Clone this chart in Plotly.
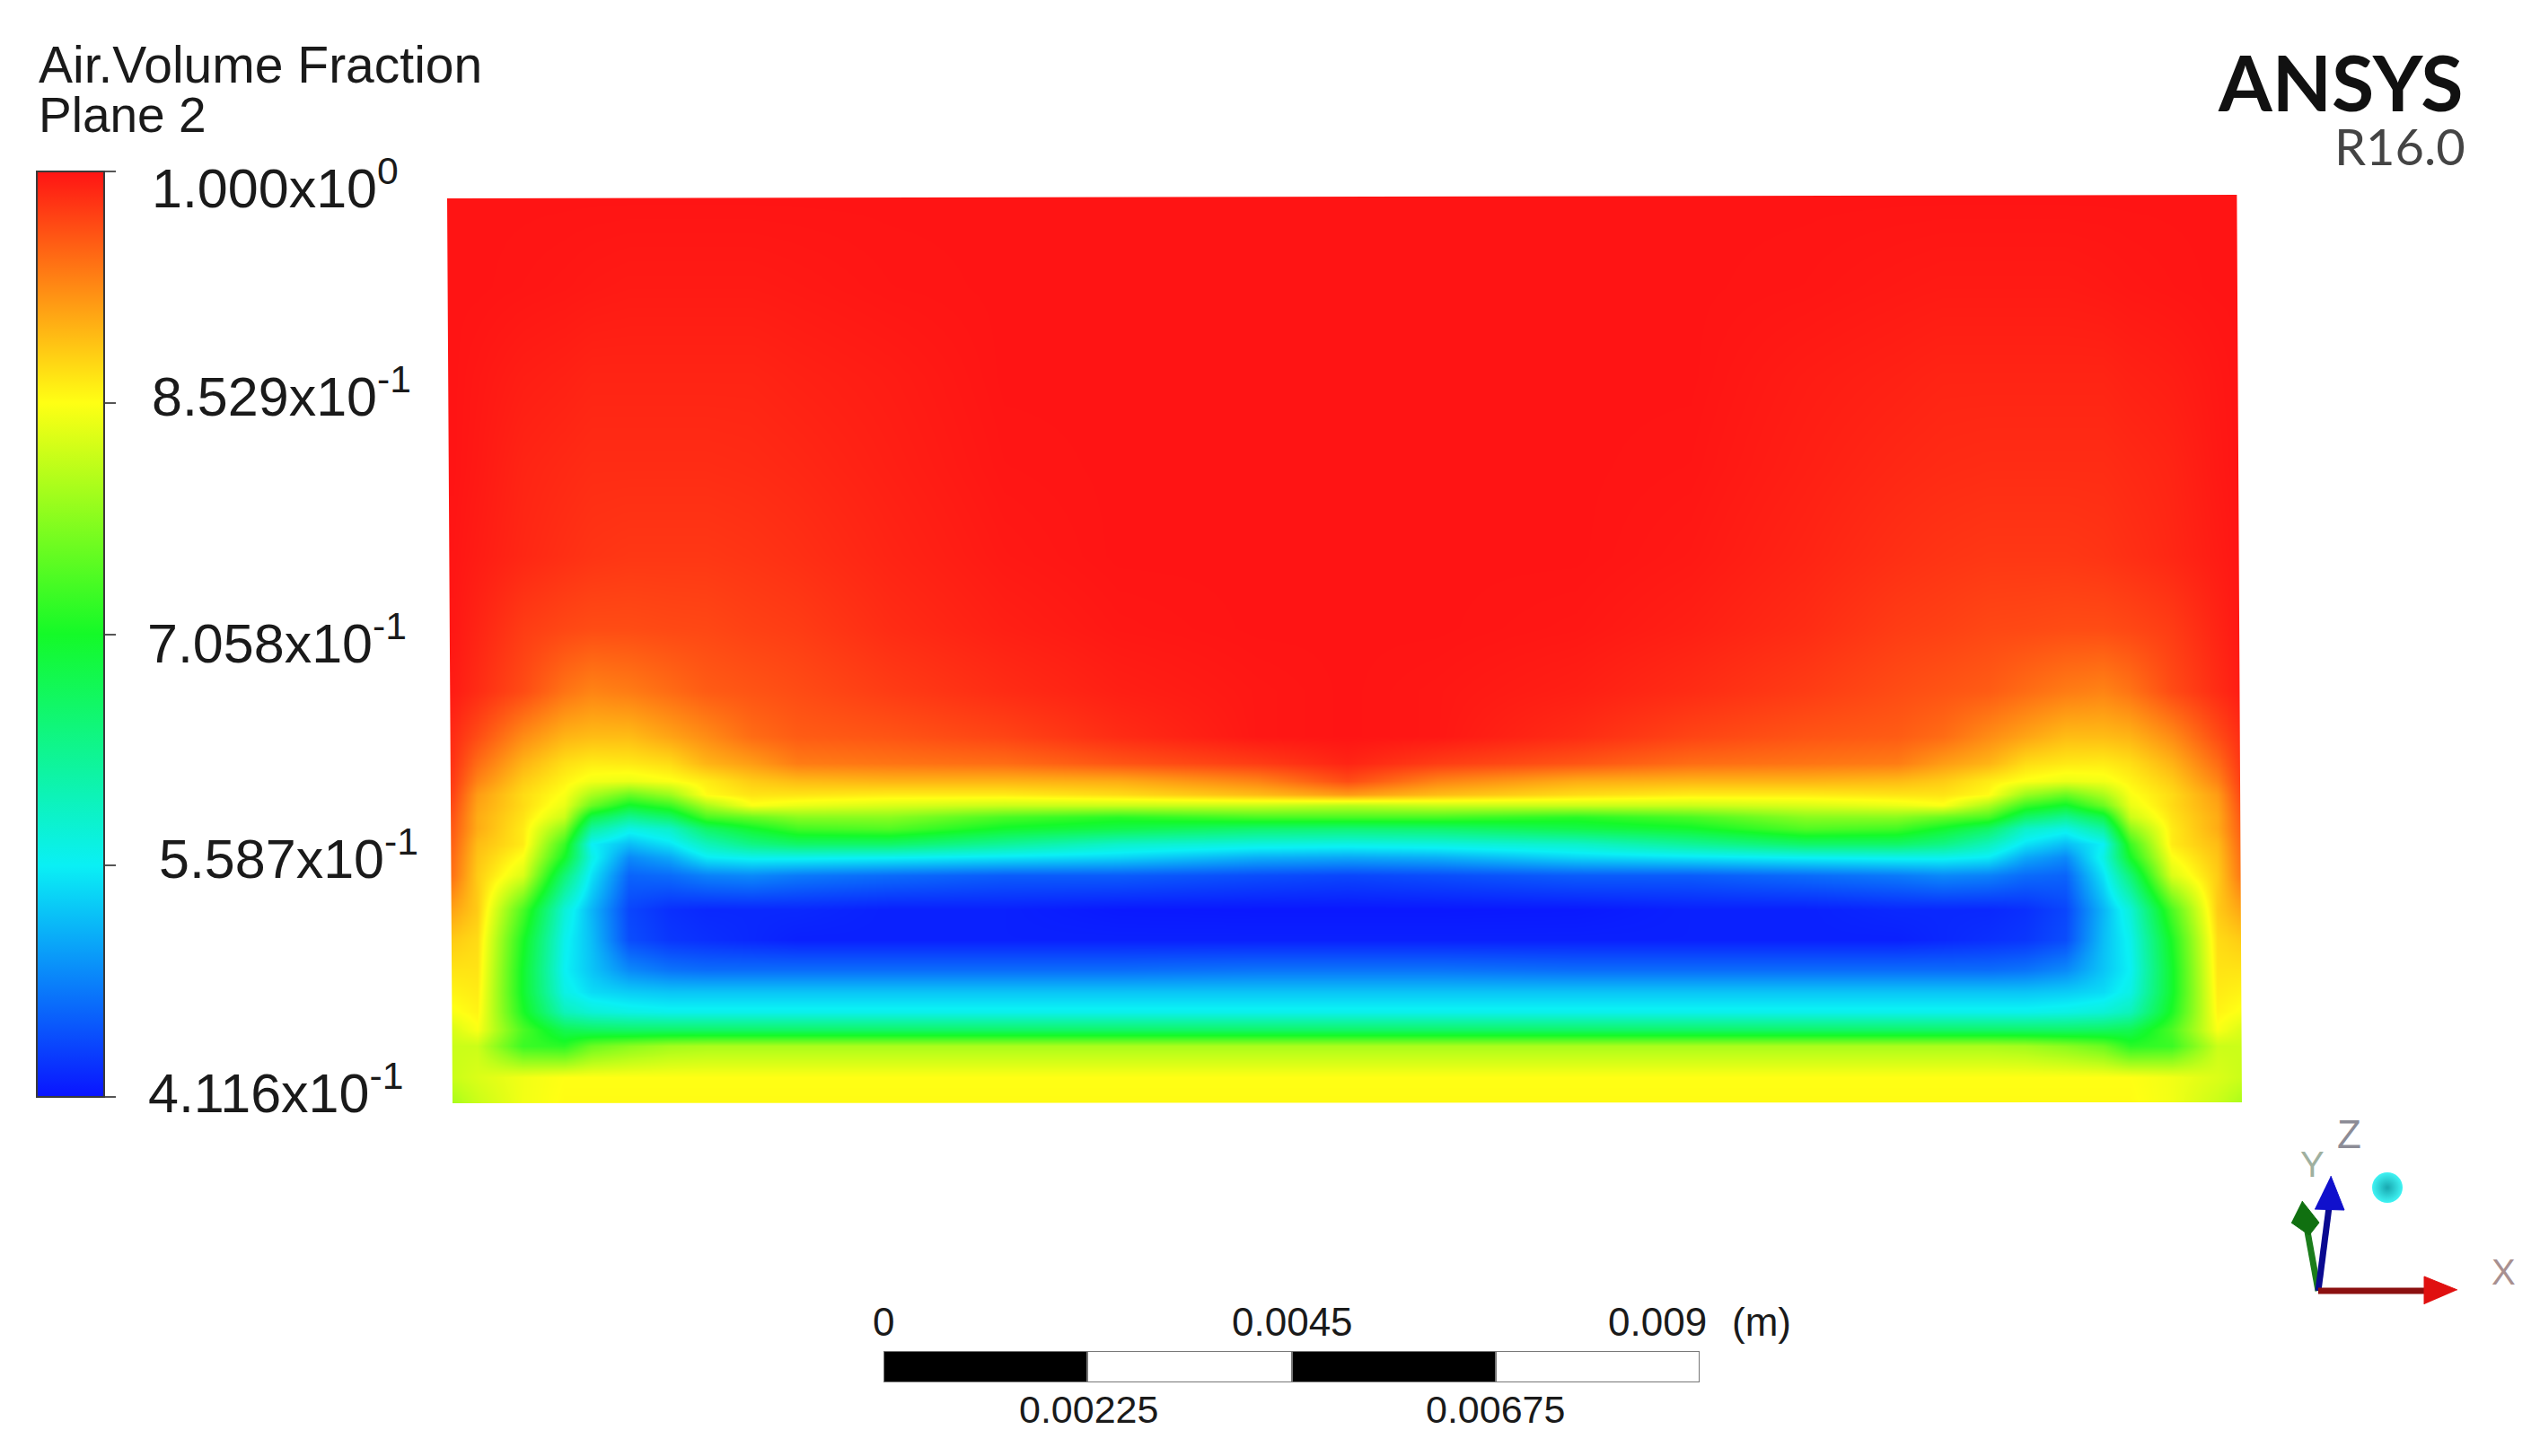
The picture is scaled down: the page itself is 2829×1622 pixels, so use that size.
import plotly.graph_objects as go

W, H = 2829, 1622

# ---------- data ----------
x_positions = [504,531,582,628,658,700,745,786,837,888,990,1118,1245,1400,1500,1600,1755,1882,2010,2112,2163,2214,2255,2300,2342,2372,2418,2469,2496]
y_positions = [220,320,420,520,620,700,770,820,850,870,885,897,910,923,940,955,975,1013,1047,1080,1105,1127,1147,1165,1200,1228]

air_fraction = [
[1,1,1,1,1,1,1,1,1,1,1,1,1,1,1,1,1,1,1,1,1,1,1,1,1,1,1,1,1],
[1,1,.999,.998,.997,.996,.996,.996,.996,.997,.999,1,1,1,1,1,1,1,.999,.997,.996,.996,.996,.996,.997,.998,.999,1,1],
[1,.998,.994,.992,.99,.99,.99,.99,.99,.992,.995,1,1,1,1,1,1,1,.995,.992,.99,.99,.99,.99,.99,.992,.994,.998,1],
[1,.997,.99,.987,.985,.985,.985,.985,.986,.988,.993,.999,1,1,1,1,1,.999,.993,.988,.986,.985,.985,.985,.985,.987,.99,.997,1],
[.999,.995,.988,.983,.98,.978,.978,.978,.98,.983,.99,.997,1,1,1,1,1,.997,.99,.983,.98,.978,.978,.978,.98,.983,.988,.995,.999],
[.998,.99,.975,.968,.965,.965,.967,.968,.972,.975,.985,.993,.998,1,1,1,.998,.993,.985,.975,.972,.968,.967,.965,.965,.968,.975,.99,.998],
[.995,.985,.965,.94,.93,.935,.945,.955,.96,.965,.975,.985,.993,.998,1,.998,.993,.985,.975,.965,.96,.955,.945,.935,.93,.94,.965,.985,.995],
[.985,.965,.925,.90,.895,.895,.91,.925,.945,.955,.96,.97,.985,.998,1,.998,.985,.97,.96,.955,.945,.925,.91,.895,.895,.90,.925,.965,.985],
[.98,.945,.90,.873,.865,.867,.875,.90,.915,.935,.94,.945,.96,.975,.99,.975,.96,.945,.94,.935,.915,.90,.875,.867,.865,.873,.90,.945,.98],
[.975,.93,.885,.86,.845,.84,.85,.865,.885,.895,.90,.90,.905,.93,.965,.93,.905,.90,.90,.895,.885,.865,.85,.84,.845,.86,.885,.93,.975],
[.97,.915,.875,.85,.80,.76,.79,.855,.87,.87,.865,.865,.875,.895,.915,.895,.875,.865,.865,.87,.87,.855,.79,.76,.80,.85,.875,.915,.97],
[.965,.91,.875,.84,.76,.70,.73,.80,.85,.84,.83,.82,.82,.82,.81,.82,.82,.82,.83,.84,.85,.80,.73,.70,.76,.84,.875,.91,.965],
[.96,.905,.87,.82,.68,.63,.66,.74,.76,.78,.78,.74,.72,.74,.74,.74,.72,.74,.78,.78,.76,.74,.66,.63,.68,.82,.87,.905,.96],
[.955,.905,.865,.78,.62,.57,.59,.66,.70,.735,.745,.70,.68,.655,.65,.655,.68,.70,.745,.735,.70,.66,.59,.57,.62,.78,.865,.905,.955],
[.95,.895,.865,.73,.56,.525,.55,.60,.64,.66,.66,.625,.59,.575,.57,.575,.59,.625,.66,.66,.64,.60,.55,.525,.56,.73,.865,.895,.95],
[.945,.89,.85,.705,.57,.49,.51,.555,.565,.565,.56,.55,.54,.515,.51,.515,.54,.55,.56,.565,.565,.555,.51,.49,.57,.705,.85,.89,.945],
[.94,.885,.83,.65,.55,.465,.47,.485,.49,.48,.47,.46,.46,.45,.445,.45,.46,.46,.47,.48,.49,.485,.47,.465,.55,.65,.83,.885,.94],
[.91,.885,.74,.58,.52,.445,.43,.425,.425,.425,.42,.42,.415,.414,.414,.414,.415,.42,.42,.425,.425,.425,.43,.445,.52,.58,.74,.885,.91],
[.885,.875,.71,.565,.525,.45,.435,.43,.425,.42,.42,.42,.42,.42,.42,.42,.42,.42,.42,.42,.425,.43,.435,.45,.525,.565,.71,.875,.885],
[.87,.87,.70,.56,.53,.49,.475,.47,.47,.47,.47,.47,.47,.475,.475,.475,.47,.47,.47,.47,.47,.47,.475,.49,.53,.56,.70,.87,.87],
[.86,.865,.70,.57,.545,.535,.53,.53,.53,.53,.53,.53,.53,.53,.53,.53,.53,.53,.53,.53,.53,.53,.53,.535,.545,.57,.70,.865,.86],
[.85,.86,.71,.60,.58,.57,.565,.565,.565,.565,.565,.565,.565,.565,.565,.565,.565,.565,.565,.565,.565,.565,.565,.57,.58,.60,.71,.86,.85],
[.83,.85,.74,.675,.665,.66,.66,.66,.66,.66,.66,.66,.66,.66,.66,.66,.66,.66,.66,.66,.66,.66,.66,.66,.665,.675,.74,.85,.83],
[.82,.82,.73,.72,.76,.78,.795,.80,.80,.80,.80,.80,.80,.80,.80,.80,.80,.80,.80,.80,.80,.80,.795,.78,.76,.72,.73,.82,.82],
[.82,.83,.845,.853,.853,.853,.853,.853,.853,.853,.853,.853,.853,.853,.853,.853,.853,.853,.853,.853,.853,.853,.853,.853,.853,.853,.845,.83,.82],
[.80,.82,.845,.855,.855,.855,.855,.855,.855,.855,.855,.855,.855,.855,.855,.855,.855,.855,.855,.855,.855,.855,.855,.855,.855,.855,.845,.82,.80],
]

cbar_ticks = [1.0, 0.8529, 0.7058, 0.5587, 0.4116]
cbar_labels = ["1.000x10<sup>0</sup>", "8.529x10<sup>-1</sup>", "7.058x10<sup>-1</sup>", "5.587x10<sup>-1</sup>", "4.116x10<sup>-1</sup>"]

scale_starts = [0, 0.00225, 0.0045, 0.00675]
scale_widths = [0.00225, 0.00225, 0.00225, 0.00225]
scale_fill = ["#000000", "#ffffff", "#000000", "#ffffff"]

# ---------- style ----------
FONT = "Liberation Sans"
rainbow = [[0, "#0a14ff"], [0.25, "#0af0f5"], [0.5, "#14fa28"], [0.75, "#ffff14"], [1, "#ff1414"]]

fig = go.Figure()

fig.add_trace(go.Heatmap(
    x=x_positions, y=y_positions, z=air_fraction, zsmooth="best",
    zmin=0.4116, zmax=1.0, colorscale=rainbow, hoverinfo="skip",
    colorbar=dict(
        x=41 / W, xanchor="left", xpad=0, y=1 - 191 / H, yanchor="top", ypad=0,
        thickness=75, thicknessmode="pixels", len=1031, lenmode="pixels",
        outlinecolor="#3a3a3a", outlinewidth=2,
        tickmode="array", tickvals=cbar_ticks, ticks="outside", ticklen=12,
        tickwidth=2, tickcolor="#555555", showticklabels=False,
    ),
))

# scale bar, on its own metre axis
fig.add_trace(go.Bar(
    orientation="h", y=[0, 0, 0, 0], x=scale_widths, base=scale_starts,
    marker=dict(color=scale_fill, line=dict(color="#777777", width=2)),
    xaxis="x2", yaxis="y2", width=1, hoverinfo="skip", showlegend=False,
))

# axis triad
triad = [
    ("#1b7d1b", [2582, 2570], [1438, 1372], "#107010", [2564, 2583, 2572, 2552], [1338, 1362, 1376, 1362]),
    ("#0a0a90", [2582, 2594], [1438, 1345], "#1010cc", [2596, 2611, 2578], [1310, 1348, 1347]),
    ("#8b1010", [2582, 2705], [1438, 1438], "#e01010", [2737, 2700, 2700], [1437, 1422, 1453]),
]
for shaft, sx, sy, head, hx, hy in triad:
    fig.add_trace(go.Scatter(x=sx, y=sy, mode="lines", line=dict(color=shaft, width=7),
                             hoverinfo="skip", showlegend=False))
    fig.add_trace(go.Scatter(x=hx, y=hy, mode="lines", fill="toself", fillcolor=head,
                             line=dict(color=head, width=1), hoverinfo="skip", showlegend=False))
fig.add_trace(go.Scatter(x=[2659], y=[1323], mode="markers",
                         marker=dict(size=34, color="#40f4f4", line=dict(width=0),
                                     gradient=dict(type="radial", color="#18a8b0")),
                         hoverinfo="skip", showlegend=False))

def txt(text, x, y, size, xanchor="left", color="#1a1a1a", family=FONT):
    return dict(text=text, x=x, y=y, xref="x", yref="y", xanchor=xanchor, yanchor="middle",
                showarrow=False, font=dict(family=family, size=size, color=color))

annotations = [
    txt("Air.Volume Fraction", 41, 72, 57),
    txt("Plane 2", 41, 128, 55),
    txt("<b>ANSYS</b>", 2745, 90, 86, "right", "#111111", "Lato"),
    txt("R16.0", 2748, 162, 56, "right", "#444444", "Lato"),
    txt("0", 984, 1472, 44, "center"),
    txt("0.0045", 1439, 1472, 44, "center"),
    txt("0.009", 1846, 1472, 44, "center"),
    txt("(m)", 1962, 1472, 44, "center"),
    txt("0.00225", 1212, 1570, 43, "center"),
    txt("0.00675", 1665, 1570, 43, "center"),
    txt("Z", 2616, 1263, 44, "center", "#8c8c96"),
    txt("Y", 2575, 1297, 40, "center", "#9fb09f"),
    txt("X", 2788, 1417, 40, "center", "#a89090"),
]
label_left = [167, 167, 162, 175, 163]
label_mid = [205, 437, 712, 952, 1213]
for s, lx, ly in zip(cbar_labels, label_left, label_mid):
    annotations.append(txt(s, lx, ly, 61))

def quad(pts):
    return dict(type="path", xref="x", yref="y", layer="above", fillcolor="#ffffff",
                line=dict(width=0),
                path="M " + " L ".join(f"{a},{b}" for a, b in pts) + " Z")

masks = [
    quad([(470, 150), (498, 150), (498, 221), (504, 1229), (504, 1260), (470, 1260)]),
    quad([(470, 150), (2530, 150), (2530, 217), (2491, 217), (498, 221), (470, 221)]),
    quad([(2491, 150), (2530, 150), (2530, 1260), (2497, 1260), (2497, 1228)]),
    quad([(470, 1229), (504, 1229), (2497, 1228), (2530, 1228), (2530, 1260), (470, 1260)]),
]

fig.update_layout(
    width=W, height=H, autosize=False, margin=dict(l=0, r=0, t=0, b=0),
    paper_bgcolor="#ffffff", plot_bgcolor="#ffffff", showlegend=False,
    barmode="overlay", bargap=0, hovermode=False,
    xaxis=dict(range=[0, W], visible=False, domain=[0, 1], fixedrange=True),
    yaxis=dict(range=[H, 0], visible=False, domain=[0, 1], fixedrange=True),
    xaxis2=dict(range=[0, 0.009], visible=False, domain=[984 / W, 1893 / W], anchor="y2", fixedrange=True),
    yaxis2=dict(range=[-0.5, 0.5], visible=False, domain=[1 - 1540 / H, 1 - 1505 / H], anchor="x2", fixedrange=True),
    annotations=annotations, shapes=masks,
)

fig.write_html("out.html", config=dict(displayModeBar=False),
               post_script="document.body.style.margin='0';document.documentElement.style.overflow='hidden';")
